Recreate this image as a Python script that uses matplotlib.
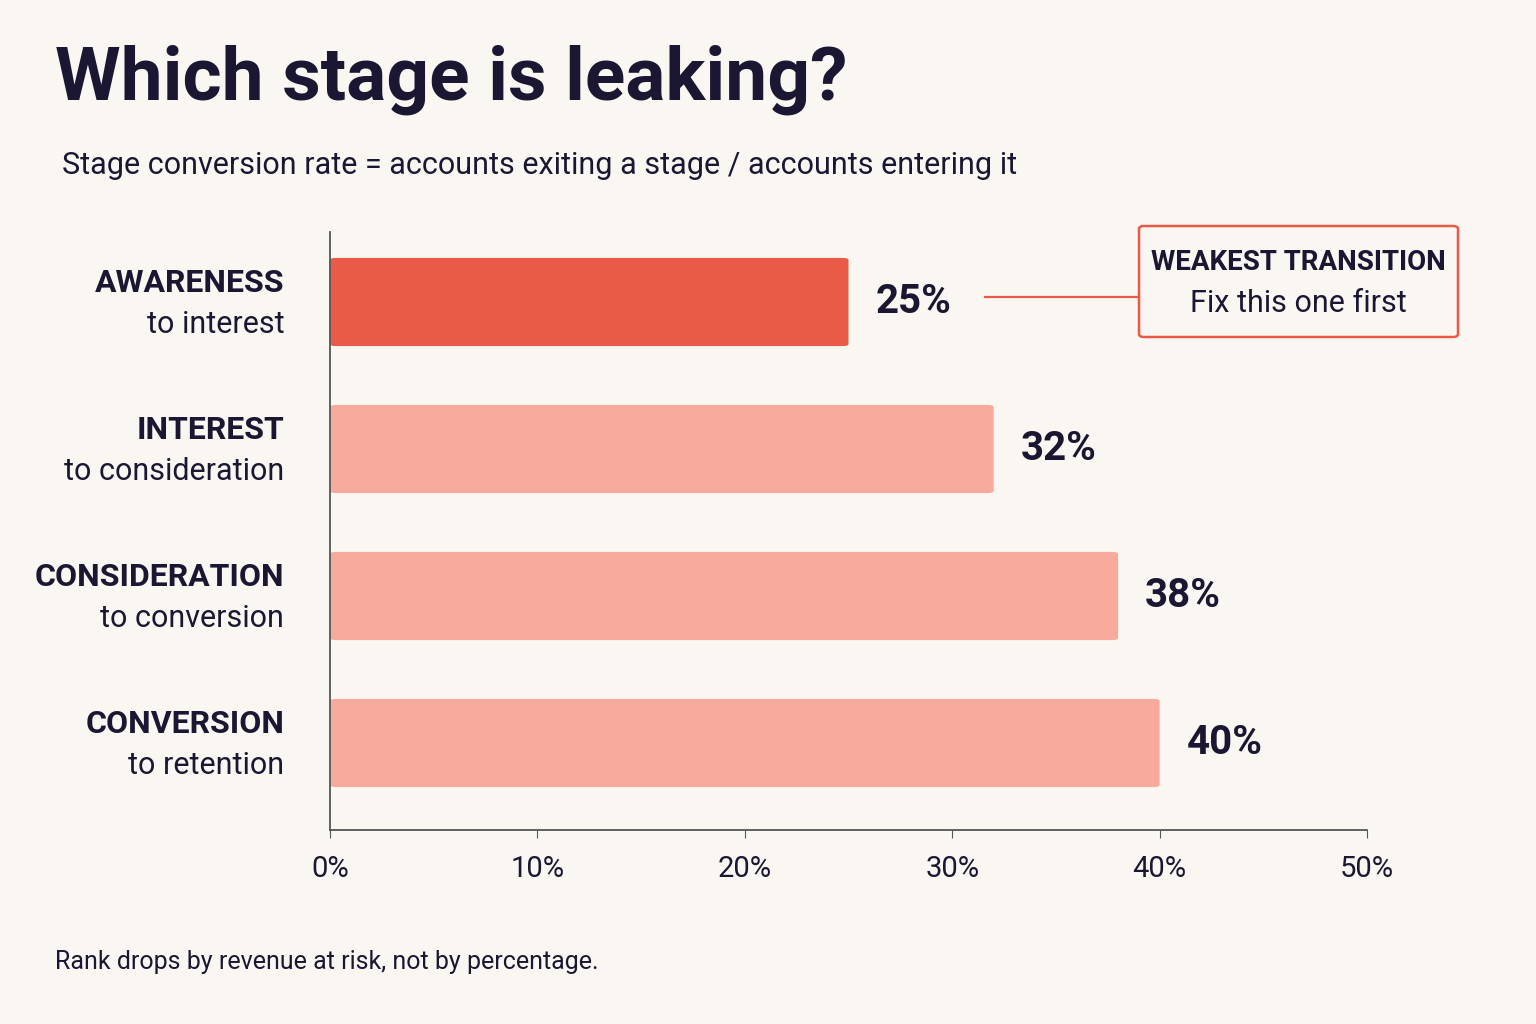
import matplotlib.pyplot as plt
from matplotlib.patches import FancyBboxPatch

# Data
stages = ["AWARENESS", "INTEREST", "CONSIDERATION", "CONVERSION"]
transitions = ["to interest", "to consideration", "to conversion", "to retention"]
rates = [25, 32, 38, 40]
ticks = [0, 10, 20, 30, 40, 50]

BG = "#FAF7F2"
INK = "#1B1733"
HOT = "#E95A47"
SOFT = "#F8AA9C"

plt.rcParams["font.family"] = ["Roboto", "DejaVu Sans"]

fig = plt.figure(figsize=(15.36, 10.24), dpi=100, facecolor=BG)
ax = fig.add_axes([330 / 1536, 1 - 830 / 1024, 1037 / 1536, 598 / 1024])
ax.set_facecolor(BG)

pos = list(range(len(rates)))
colors = [HOT if r == min(rates) else SOFT for r in rates]
for y, r, c in zip(pos, rates, colors):
    ax.add_patch(FancyBboxPatch((0, y - 0.3), r, 0.6,
                                boxstyle="round,pad=0,rounding_size=0.3",
                                mutation_aspect=0.6 / 4.5 * 0.35,
                                fc=c, ec="none"))
    ax.text(r + 1.3, y, f"{r}%", va="center", ha="left", fontsize=29,
            fontweight="bold", color=INK)

ax.set_xlim(0, 50)
ax.set_ylim(3 + 87 / 147, -70 / 147)
ax.set_xticks(ticks)
ax.set_xticklabels([f"{t}%" for t in ticks], fontsize=21, color=INK)
ax.tick_params(axis="x", length=6, color="#555", pad=12)
ax.set_yticks([])
for s in ["top", "right"]:
    ax.spines[s].set_visible(False)
for s in ["left", "bottom"]:
    ax.spines[s].set_color("#555")
    ax.spines[s].set_linewidth(1.3)

for y, st, tr in zip(pos, stages, transitions):
    ax.text(-2.2, y - 0.13, st, ha="right", va="center", fontsize=23,
            fontweight="bold", color=INK)
    ax.text(-2.2, y + 0.15, tr, ha="right", va="center", fontsize=22, color=INK)

# Callout
fig.add_artist(plt.Line2D([985 / 1536, 1139 / 1536], [1 - 297 / 1024] * 2,
                          color=HOT, lw=1.6))
fig.add_artist(FancyBboxPatch((1139 / 1536, 1 - 337 / 1024), 319 / 1536, 111 / 1024,
                              boxstyle="round,pad=0,rounding_size=0.003",
                              fc=BG, ec=HOT, lw=1.8, transform=fig.transFigure))
fig.text(1298 / 1536, 1 - 262 / 1024, "WEAKEST TRANSITION", ha="center", va="center",
         fontsize=20, fontweight="bold", color=INK)
fig.text(1298 / 1536, 1 - 304 / 1024, "Fix this one first", ha="center", va="center",
         fontsize=22, color=INK)

fig.text(55 / 1536, 1 - 80 / 1024, "Which stage is leaking?", ha="left", va="center",
         fontsize=54, fontweight="bold", color=INK)
fig.text(62 / 1536, 1 - 166 / 1024,
         "Stage conversion rate = accounts exiting a stage / accounts entering it",
         ha="left", va="center", fontsize=22, color=INK)
fig.text(55 / 1536, 1 - 962 / 1024, "Rank drops by revenue at risk, not by percentage.",
         ha="left", va="center", fontsize=18, color=INK)

fig.savefig("out.png", dpi=100, facecolor=BG)
